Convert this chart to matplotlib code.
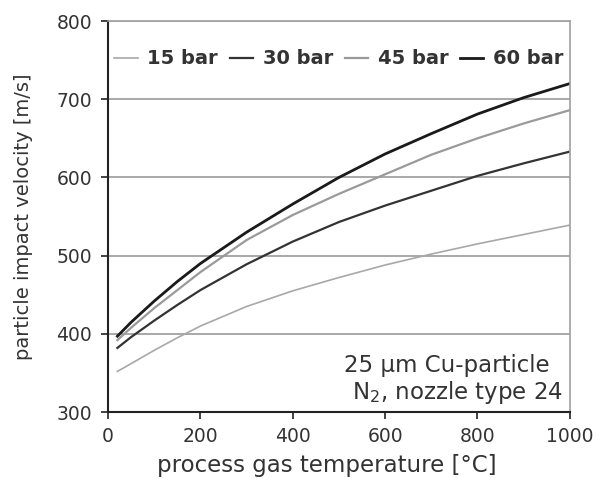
import matplotlib.pyplot as plt
import numpy as np

plt.rcParams["font.family"] = ["DejaVu Sans"]

temp = [20, 50, 100, 150, 200, 300, 400, 500, 600, 700, 800, 900, 1000]
v15 = [352, 362, 379, 395, 410, 435, 455, 472, 488, 502, 515, 527, 539]
v30 = [382, 396, 417, 437, 456, 489, 518, 543, 564, 583, 602, 618, 633]
v45 = [392, 408, 433, 456, 479, 520, 552, 579, 604, 629, 650, 669, 686]
v60 = [397, 415, 442, 467, 490, 530, 566, 600, 630, 656, 681, 702, 720]
labels = ["15 bar", "30 bar", "45 bar", "60 bar"]
colors = ["#a8a8a8", "#333333", "#9a9a9a", "#1a1a1a"]
widths = [1.2, 1.6, 1.6, 2.0]

fig = plt.figure(figsize=(6.01, 4.78), dpi=100)
ax = fig.add_axes([0.18, 0.138, 0.768, 0.818])

for y, lab, c, w in zip([v15, v30, v45, v60], labels, colors, widths):
    ax.plot(temp, y, color=c, lw=w, label=lab)

ax.set_xlim(0, 1000)
ax.set_ylim(300, 800)
ax.set_xticks(np.arange(0, 1001, 200))
ax.set_yticks(np.arange(300, 801, 100))
ax.yaxis.grid(True, color="#9a9a9a", lw=1.2)
ax.set_axisbelow(True)
for s in ["top", "right"]:
    ax.spines[s].set_color("#a0a0a0")
    ax.spines[s].set_linewidth(1.2)
for s in ["left", "bottom"]:
    ax.spines[s].set_color("#222222")
    ax.spines[s].set_linewidth(1.5)
ax.tick_params(direction="out", length=5, width=1.2, labelsize=13.5,
               labelcolor="#333333", color="#222222")
ax.tick_params(axis="y", pad=6.5)
ax.tick_params(axis="x", pad=5.5)

ax.set_xlabel("process gas temperature [°C]", fontsize=16.5, color="#333333")
ax.xaxis.set_label_coords(0.474, -0.108)
ax.set_ylabel("particle impact velocity [m/s]", fontsize=14, color="#333333",
              labelpad=17)

leg = ax.legend(loc="center", ncol=4, frameon=False, handlelength=1.2,
                handletextpad=0.5, columnspacing=0.6, fontsize=14,
                bbox_to_anchor=(0.5, 0.903), borderaxespad=0)
for t in leg.get_texts():
    t.set_fontweight("bold")
    t.set_color("#333333")

ax.text(0.957, 0.12, "25 µm Cu-particle", transform=ax.transAxes,
        ha="right", va="center", fontsize=16.5, color="#333333")
ax.text(0.985, 0.05, "N$_2$, nozzle type 24", transform=ax.transAxes,
        ha="right", va="center", fontsize=16.5, color="#333333")

fig.savefig("out.png", dpi=100)
